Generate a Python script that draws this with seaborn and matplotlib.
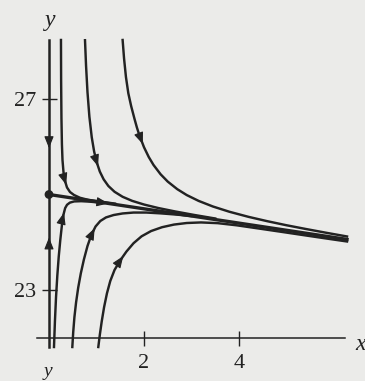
import numpy as np
import pandas as pd
import matplotlib
matplotlib.use("Agg")
import matplotlib.pyplot as plt
import seaborn as sns

# ---------------- data ----------------
# straight solution through the equilibrium point
line_x = [0.0, 6.274]
line_y = [25.0, 24.06]

# curves coming down from the top (listed in the direction of flow)
c1_x = [0.252, 0.255, 0.262, 0.272, 0.284, 0.305, 0.337, 0.379, 0.442, 0.526, 0.653, 0.821, 1.074, 1.389]
c1_y = [28.236, 27.40, 26.60, 26.05, 25.723, 25.471, 25.283, 25.147, 25.052, 24.990, 24.931, 24.889, 24.853, 24.809]

c2_x = [0.758, 0.78, 0.81, 0.85, 0.90, 0.95, 1.00, 1.07, 1.15, 1.25, 1.38, 1.55, 1.75, 2.00, 2.30, 2.65, 3.05, 3.50]
c2_y = [28.231, 27.697, 27.147, 26.632, 26.198, 25.901, 25.690, 25.480, 25.318, 25.178, 25.057, 24.952, 24.867, 24.790, 24.717, 24.646, 24.573, 24.497]

c3_x = [1.55, 1.58, 1.62, 1.67, 1.73, 1.80, 1.85, 1.90, 2.00, 2.10, 2.20, 2.35, 2.50, 2.70, 2.90, 3.15, 3.45, 3.80, 4.20, 4.60, 5.00, 5.40, 5.85, 6.274]
c3_y = [28.236, 27.85, 27.46, 27.12, 26.85, 26.584, 26.405, 26.249, 25.990, 25.785, 25.619, 25.423, 25.270, 25.112, 24.988, 24.866, 24.749, 24.638, 24.532, 24.440, 24.356, 24.279, 24.196, 24.121]

# curves coming up from the bottom
l1_x = [0.105, 0.125, 0.148, 0.175, 0.205, 0.238, 0.272, 0.305, 0.34, 0.38, 0.44, 0.53, 0.68, 0.86, 1.074]
l1_y = [21.806, 22.35, 22.85, 23.30, 23.70, 24.05, 24.36, 24.58, 24.715, 24.785, 24.83, 24.855, 24.86, 24.85, 24.83]

l2_x = [0.491, 0.51, 0.535, 0.57, 0.615, 0.67, 0.735, 0.81, 0.89, 0.98, 1.08, 1.20, 1.36, 1.55, 1.78, 2.05, 2.35, 2.70, 3.00]
l2_y = [21.806, 22.12, 22.43, 22.74, 23.05, 23.35, 23.64, 23.92, 24.15, 24.33, 24.445, 24.52, 24.57, 24.603, 24.622, 24.622, 24.605, 24.578, 24.548]

l3_x = [1.038, 1.07, 1.11, 1.16, 1.22, 1.29, 1.38, 1.50, 1.63, 1.78, 1.95, 2.15, 2.38, 2.63, 2.90, 3.20, 3.55, 3.95, 4.40, 4.90, 5.40, 5.85, 6.274]
l3_y = [21.806, 22.062, 22.342, 22.642, 22.93, 23.189, 23.42, 23.62, 23.805, 23.98, 24.125, 24.235, 24.315, 24.37, 24.403, 24.415, 24.40, 24.355, 24.29, 24.217, 24.143, 24.077, 24.016]

# the y axis is itself a trajectory toward the equilibrium
axis_down_x = [0.0, 0.0]
axis_down_y = [28.24, 25.0]
axis_up_x = [0.0, 0.0]
axis_up_y = [21.8, 25.0]

eq_x = [0.0]
eq_y = [25.0]

# arrow tips (approximate positions on each trajectory)
arrow_curves = ["axis_down", "axis_up", "c1", "c2", "c3", "line", "l1", "l2", "l3"]
arrow_tip_x = [0.0, 0.0, 0.35, 1.004, 1.937, 1.25, 0.31, 0.968, 1.579]
arrow_tip_y = [25.97, 24.10, 25.20, 25.58, 26.04, 24.81, 24.62, 24.29, 23.70]

x_ticks = [2, 4]
y_ticks = [23, 27]

# ---------------- figure ----------------
INK = "#222222"
PAPER = "#ebebe9"

fig = plt.figure(figsize=(3.65, 3.81), dpi=100, facecolor=PAPER)
ax = fig.add_axes([0, 0, 1, 1], facecolor=PAPER)
ax.set_xlim(-49 / 47.5, (365 - 49) / 47.5)
ax.set_ylim(27 - 282 / 47.75, 27 + 99 / 47.75)

curves = {
    "c1": (c1_x, c1_y), "c2": (c2_x, c2_y), "c3": (c3_x, c3_y),
    "l1": (l1_x, l1_y), "l2": (l2_x, l2_y), "l3": (l3_x, l3_y),
}
frames = []
for name, (xs, ys) in curves.items():
    frames.append(pd.DataFrame({"x": xs, "y": ys, "curve": name}))
df = pd.concat(frames, ignore_index=True)

sns.lineplot(data=df, x="x", y="y", units="curve", estimator=None, sort=False,
             color=INK, linewidth=1.75, ax=ax, legend=False)
sns.lineplot(x=line_x, y=line_y, sort=False, estimator=None, color=INK,
             linewidth=2.4, ax=ax, legend=False)
sns.scatterplot(x=eq_x, y=eq_y, color=INK, s=40, edgecolor="none", ax=ax, zorder=5)

# arrows
paths = dict(curves)
paths["line"] = (line_x, line_y)
paths["axis_down"] = (axis_down_x, axis_down_y)
paths["axis_up"] = (axis_up_x, axis_up_y)

fig.canvas.draw()
T = ax.transData
Ti = T.inverted()
for name, tx, ty in zip(arrow_curves, arrow_tip_x, arrow_tip_y):
    xs, ys = paths[name]
    pts = T.transform(np.column_stack([xs, ys]))
    tip = T.transform((tx, ty))
    best = None
    for k in range(len(pts) - 1):
        a, b = pts[k], pts[k + 1]
        seg = b - a
        L2 = float(seg @ seg)
        t = 0.0 if L2 == 0 else float(np.clip((tip - a) @ seg / L2, 0, 1))
        proj = a + t * seg
        d = np.hypot(*(proj - tip))
        if best is None or d < best[0]:
            best = (d, proj, seg / np.sqrt(L2))
    _, proj, v = best
    tail = proj - v * 4.0
    ax.annotate("", xy=Ti.transform(proj), xytext=Ti.transform(tail),
                arrowprops=dict(arrowstyle="-|>,head_length=0.65,head_width=0.26",
                                mutation_scale=11, color=INK, lw=0.8,
                                shrinkA=0, shrinkB=0), zorder=6)

# axes as in the textbook drawing
for s in ["top", "right"]:
    ax.spines[s].set_visible(False)
ax.spines["left"].set_position(("data", 0))
ax.spines["bottom"].set_position(("data", 22))
ax.spines["left"].set_bounds(21.8, 28.24)
ax.spines["bottom"].set_bounds(-0.25, 6.23)
ax.spines["left"].set_linewidth(1.8)
ax.spines["bottom"].set_linewidth(1.1)
ax.spines["left"].set_color(INK)
ax.spines["bottom"].set_color(INK)

ax.set_xticks(x_ticks)
ax.set_yticks(y_ticks)
ax.set_xticklabels([str(v) for v in x_ticks])
ax.set_yticklabels([str(v) for v in y_ticks])
ax.tick_params(direction="inout", length=10.8, width=1.0, color=INK,
               labelsize=16, labelcolor=INK)
ax.tick_params(axis="x", pad=6)
ax.tick_params(axis="y", pad=4)
for lab in ax.get_xticklabels() + ax.get_yticklabels():
    lab.set_fontfamily("Liberation Serif")
ax.set_xlabel("")
ax.set_ylabel("")

ax.text(0.03, 28.65, "y", fontsize=17, fontstyle="italic", family="Liberation Serif",
        ha="center", va="center", color=INK)
ax.text(6.55, 21.85, "x", fontsize=17, fontstyle="italic", family="Liberation Serif",
        ha="center", va="center", color=INK)
ax.text(-0.03, 21.125, "y", fontsize=14, fontstyle="italic", family="Liberation Serif",
        ha="center", va="bottom", color=INK)

fig.savefig("out.png", dpi=100, facecolor=PAPER)
